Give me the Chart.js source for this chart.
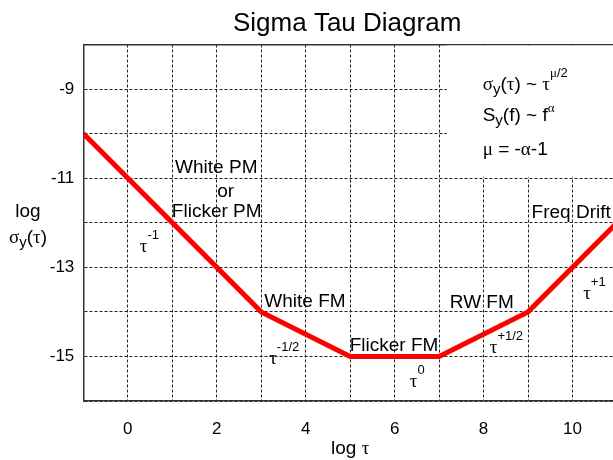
<!DOCTYPE html>
<html>
<head>
<meta charset="utf-8">
<script src="https://cdn.jsdelivr.net/npm/chart.js@4/dist/chart.umd.min.js"></script>
<style>
  html, body { margin: 0; padding: 0; background: #fff; overflow: hidden; }
  canvas { display: block; }
</style>
</head>
<body>
<canvas id="chart" width="620" height="460"></canvas>
<script>
// Piecewise slopes of the Allan deviation (log-log)
const logTau   = [-1, 3, 5, 7, 9, 11];
const logSigma = [-10, -14, -15, -15, -14, -12];

// Labelled ticks (grid lines run at every integer)
const xTickLabels = [0, 2, 4, 6, 8, 10];
const yTickLabels = [-9, -11, -13, -15];

const SANS  = '"Liberation Sans", Arial, sans-serif';
const SERIF = '"Liberation Serif", "Times New Roman", serif';
const GRID_COLOR = '#222';
const AXIS_COLOR = '#333';

// Small rich-text helper: runs of text with their own font, size and baseline shift
function richText(ctx, x, y, runs, align) {
  let total = 0;
  for (const r of runs) {
    ctx.font = (r.size || 19) + 'px ' + (r.greek ? SERIF : SANS);
    r.w = ctx.measureText(r.t).width;
    total += r.w;
  }
  let cx = align === 'center' ? x - total / 2 : x;
  ctx.textAlign = 'left';
  ctx.textBaseline = 'alphabetic';
  for (const r of runs) {
    ctx.font = (r.size || 19) + 'px ' + (r.greek ? SERIF : SANS);
    ctx.fillText(r.t, cx, y + (r.dy || 0));
    cx += r.w;
  }
}
const txt = (t, o) => Object.assign({ t }, o || {});
const gk  = (t, o) => Object.assign({ t, greek: true }, o || {});
const tauPow = (p) => [gk('τ'), txt(p, { size: 13, dy: -13 })];

// Labels placed in data space: [x, y, align, runs]
const notes = [
  [1.99, -10.89, 'center', [txt('White PM')]],
  [2.2,  -11.42, 'center', [txt('or')]],
  [2.0,  -11.86, 'center', [txt('Flicker PM')]],
  [3.07, -13.90, 'left',   [txt('White FM')]],
  [4.99, -14.88, 'left',   [txt('Flicker FM')]],
  [7.24, -13.92, 'left',   [txt('RW FM')]],
  [9.08, -11.90, 'left',   [txt('Freq Drift')]],
  [0.27, -12.65, 'left',   tauPow('-1')],
  [3.18, -15.18, 'left',   tauPow('-1/2')],
  [6.34, -15.68, 'left',   tauPow('0')],
  [8.14, -14.92, 'left',   tauPow('+1/2')],
  [10.24, -13.70, 'left',  tauPow('+1')],
  [7.98, -9.02, 'left', [gk('σ'), txt('y', { size: 15, dy: 4 }), txt('('), gk('τ'), txt(') ~ '), gk('τ'),
                         gk('μ', { size: 13, dy: -13 }), txt('/2', { size: 13, dy: -13 })]],
  [7.98, -9.71, 'left', [txt('S'), txt('y', { size: 15, dy: 4 }), txt('(f) ~ f'), gk('α', { size: 13, dy: -9 })]],
  [7.98, -10.48, 'left', [gk('μ'), txt(' = -'), gk('α'), txt('-1')]]
];

// White panel behind the relation formulas
const legendPanel = { x0: 7.17, y0: -10.97 };

const decorations = {
  id: 'decorations',
  beforeDatasetsDraw(chart) {
    const { ctx, chartArea: a, scales: { x, y } } = chart;
    const left = x.getPixelForValue(legendPanel.x0);
    const bottom = y.getPixelForValue(legendPanel.y0);
    ctx.save();
    ctx.fillStyle = '#fff';
    ctx.fillRect(left, a.top + 1, a.right - left, bottom - a.top - 1);
    ctx.restore();
  },
  afterDraw(chart) {
    const { ctx, chartArea: a, scales: { x, y } } = chart;
    ctx.save();
    ctx.fillStyle = '#000';
    for (const [vx, vy, align, runs] of notes) {
      richText(ctx, x.getPixelForValue(vx), y.getPixelForValue(vy), runs, align);
    }
    const mid = (a.left + a.right) / 2;
    // chart title
    richText(ctx, mid - 3, 31, [txt('Sigma Tau Diagram', { size: 26 })], 'center');
    // axis titles
    richText(ctx, mid, 454, [txt('log '), gk('τ')], 'center');
    richText(ctx, 28, 216.5, [txt('log')], 'center');
    richText(ctx, 28, 243, [gk('σ'), txt('y', { size: 15, dy: 4 }), txt('('), gk('τ'), txt(')')], 'center');
    ctx.restore();
  }
};

// keep horizontal axes from reserving room for overhanging tick labels
function noSidePadding(s) { s.paddingLeft = 0; s.paddingRight = 0; }

new Chart(document.getElementById('chart'), {
  type: 'scatter',
  data: {
    datasets: [{
      data: logTau.map((v, i) => ({ x: v, y: logSigma[i] })),
      showLine: true,
      borderColor: '#ff0000',
      borderWidth: 5,
      pointRadius: 0,
      tension: 0
    }]
  },
  options: {
    responsive: false,
    animation: false,
    layout: { padding: { left: 0, right: 3, top: 44.5, bottom: 0 } },
    plugins: { legend: { display: false }, title: { display: false }, tooltip: { enabled: false } },
    scales: {
      x: {
        type: 'linear', position: 'bottom', min: -1, max: 11,
        afterFit(s) { s.height = 59; noSidePadding(s); },
        ticks: {
          stepSize: 1, autoSkip: false, maxRotation: 0, padding: 18,
          color: '#000', font: { family: SANS, size: 17 },
          callback: (v) => xTickLabels.includes(v) ? String(v) : ''
        },
        grid: { color: GRID_COLOR, lineWidth: 1, drawTicks: false },
        border: { display: true, color: AXIS_COLOR, width: 1.5, dash: [3, 2] }
      },
      xTop: {
        type: 'linear', position: 'top', min: -1, max: 11,
        afterFit(s) { s.height = 0; noSidePadding(s); },
        ticks: { display: false },
        grid: { display: false, drawTicks: false },
        border: { display: true, color: AXIS_COLOR, width: 1.5 }
      },
      y: {
        type: 'linear', min: -16, max: -8,
        afterFit(s) { s.width = 83.3; s.paddingTop = 0; s.paddingBottom = 0; },
        ticks: {
          stepSize: 1, autoSkip: false, padding: 9,
          color: '#000', font: { family: SANS, size: 17 },
          callback: (v) => yTickLabels.includes(v) ? String(v) : ''
        },
        grid: { color: GRID_COLOR, lineWidth: 1, drawTicks: false },
        border: { display: true, color: AXIS_COLOR, width: 1.5, dash: [3, 2] }
      }
    }
  },
  plugins: [decorations]
});
</script>
</body>
</html>
